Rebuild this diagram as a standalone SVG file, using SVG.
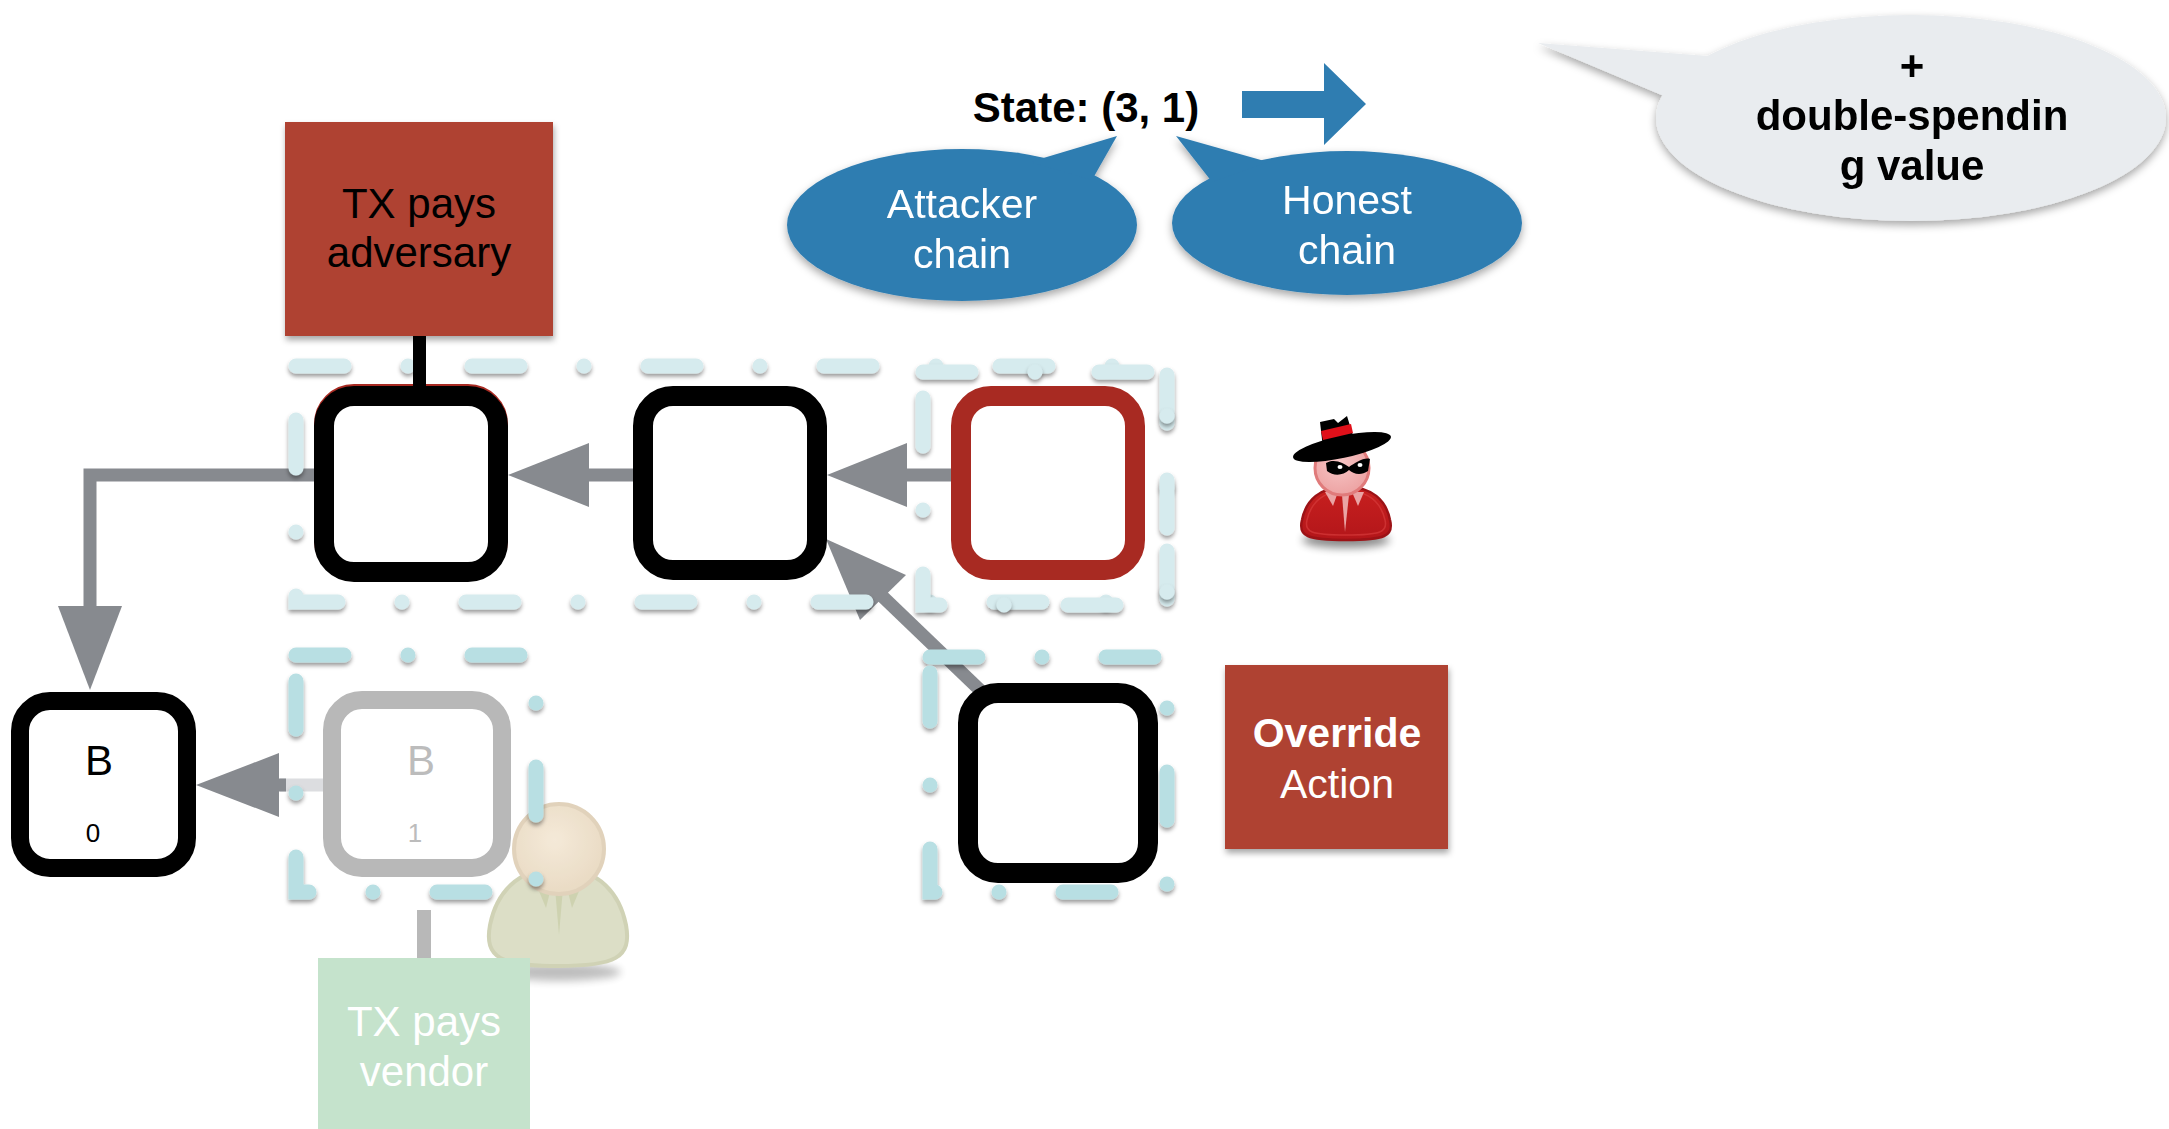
<svg xmlns="http://www.w3.org/2000/svg" width="2169" height="1129" viewBox="0 0 2169 1129">
  <style>
    .sans { font-family: "Liberation Sans", Arial, sans-serif; }
    .label { font-family: "Liberation Sans", Arial, sans-serif; font-size: 42px; text-anchor: middle; }
    .bold { font-weight: bold; }
    .blk { fill: #fff; stroke: #000; stroke-width: 20; }
    .blk-faded { fill: #fff; stroke: #b8b8b8; stroke-width: 18; }
    .wire { fill: none; stroke: #878a8f; stroke-width: 13; }
    .head { fill: #878a8f; }
    .grp { fill: none; stroke-width: 15; stroke-linecap: round; stroke-dasharray: 48 64 0 64; filter: url(#dashShadow); }
    .grp-pale { stroke: #d6ebee; }
    .grp-strong { stroke: #b8dfe3; }
    .card { filter: url(#boxShadow); }
    .bubble-blue { fill: #2f7db1; }
  </style>
  <defs>
    <filter id="dashShadow" x="-10%" y="-10%" width="120%" height="130%">
      <feDropShadow dx="0" dy="3" stdDeviation="2" flood-color="#000" flood-opacity="0.4"/>
    </filter>
    <filter id="boxShadow" x="-10%" y="-10%" width="125%" height="125%">
      <feDropShadow dx="1" dy="4" stdDeviation="3" flood-color="#000" flood-opacity="0.35"/>
    </filter>
    <filter id="bubbleShadow" x="-10%" y="-20%" width="120%" height="150%">
      <feDropShadow dx="0" dy="4" stdDeviation="4" flood-color="#000" flood-opacity="0.35"/>
    </filter>
    <filter id="softBlur" x="-50%" y="-200%" width="200%" height="500%">
      <feGaussianBlur stdDeviation="4"/>
    </filter>
    <radialGradient id="spyFace" cx="0.45" cy="0.4" r="0.6">
      <stop offset="0" stop-color="#f7c6c6"/>
      <stop offset="1" stop-color="#eda3a3"/>
    </radialGradient>
    <linearGradient id="spyBody" x1="0" y1="0" x2="0" y2="1">
      <stop offset="0" stop-color="#c8201f"/>
      <stop offset="1" stop-color="#b3161a"/>
    </linearGradient>
    <radialGradient id="vendorFace" cx="0.45" cy="0.4" r="0.6">
      <stop offset="0" stop-color="#f3e6d2"/>
      <stop offset="1" stop-color="#e6d5ba"/>
    </radialGradient>
  </defs>

  <rect width="2169" height="1129" fill="#fff"/>

  <!-- speech bubbles and state label -->
  <g id="bubble-value" filter="url(#bubbleShadow)">
    <ellipse cx="1911" cy="118" rx="255" ry="103" fill="#e9ecef"/>
    <polygon points="1538,43 1708,56 1664,96" fill="#e9ecef"/>
    <text class="label bold" x="1912" y="80">+</text>
    <text class="label bold" x="1912" y="130">double-spendin</text>
    <text class="label bold" x="1912" y="180">g value</text>
  </g>

  <g id="bubble-attacker" filter="url(#bubbleShadow)">
    <ellipse class="bubble-blue" cx="962" cy="225" rx="175" ry="76"/>
    <polygon class="bubble-blue" points="1117,136 1030,162 1092,180"/>
    <text class="label" x="962" y="218" fill="#fff" style="font-size:41px">Attacker</text>
    <text class="label" x="962" y="268" fill="#fff" style="font-size:41px">chain</text>
  </g>

  <g id="bubble-honest" filter="url(#bubbleShadow)">
    <ellipse class="bubble-blue" cx="1347" cy="223" rx="175" ry="72"/>
    <polygon class="bubble-blue" points="1176,136 1212,182 1268,162"/>
    <text class="label" x="1347" y="214" fill="#fff" style="font-size:41px">Honest</text>
    <text class="label" x="1347" y="264" fill="#fff" style="font-size:41px">chain</text>
  </g>

  <g id="state-label">
    <text class="label bold" x="1086" y="122">State: (3, 1)</text>
  </g>

  <g id="state-arrow">
    <polygon points="1242,91 1324,91 1324,63 1366,104 1324,145 1324,118 1242,118" fill="#2f7db1"/>
  </g>

  <!-- connectors between blocks -->
  <g id="connectors">
    <!-- block 1 -> B0 (elbow) -->
    <polyline class="wire" points="314,475 90,475 90,608" stroke-linejoin="miter"/>
    <polygon class="head" points="90,690 58,606 122,606"/>
    <!-- block 2 -> block 1 -->
    <line class="wire" x1="589" y1="475" x2="633" y2="475"/>
    <polygon class="head" points="508,475 589,443 589,507"/>
    <!-- red block -> block 2 -->
    <line class="wire" x1="907" y1="475" x2="951" y2="475"/>
    <polygon class="head" points="827,475 907,443 907,507"/>
    <!-- override block -> block 2 -->
    <line class="wire" x1="882" y1="596" x2="982" y2="692"/>
    <polygon class="head" points="826,539 906,575 860,620"/>
    <!-- B1 -> B0 -->
    <line x1="280" y1="785" x2="324" y2="785" stroke="#dcdde0" stroke-width="13"/>
    <line x1="278" y1="785" x2="286" y2="785" stroke="#878a8f" stroke-width="13"/>
    <polygon class="head" points="196,785 279,753 279,817"/>
  </g>

  <!-- blocks -->
  <g id="block-1">
    <rect x="324" y="394" width="174" height="176" rx="30" fill="none" stroke="#a82a22" stroke-width="20"/>
    <rect class="blk" x="324" y="396" width="174" height="176" rx="30"/>
  </g>
  <g id="block-2">
    <rect class="blk" x="643" y="396" width="174" height="174" rx="30"/>
  </g>
  <g id="block-3">
    <rect x="961" y="396" width="174" height="174" rx="30" fill="#fff" stroke="#a82a22" stroke-width="20"/>
  </g>
  <g id="block-override">
    <rect class="blk" x="968" y="693" width="180" height="180" rx="30"/>
  </g>
  <g id="block-b0">
    <rect x="20" y="701" width="167" height="167" rx="30" fill="#fff" stroke="#000" stroke-width="18"/>
    <text class="sans" x="99" y="775" font-size="42" text-anchor="middle" fill="#000">B</text>
    <text class="sans" x="93" y="842" font-size="26" text-anchor="middle" fill="#000">0</text>
  </g>
  <g id="block-b1">
    <rect class="blk-faded" x="332" y="700" width="170" height="168" rx="30"/>
    <text class="sans" x="421" y="775" font-size="42" text-anchor="middle" fill="#bcbcbc">B</text>
    <text class="sans" x="415" y="842" font-size="26" text-anchor="middle" fill="#bcbcbc">1</text>
  </g>

  <!-- vendor figure (faded) -->
  <g id="vendor-person" opacity="0.85">
    <ellipse cx="559" cy="972" rx="62" ry="9" fill="#000" opacity="0.3" filter="url(#softBlur)"/>
    <path d="M558,868 C600,868 620,895 626,925 C632,958 615,966 558,966 C501,966 484,958 490,925 C496,895 516,868 558,868 Z" fill="#d6d9bd" stroke="#c8cba9" stroke-width="4"/>
    <polygon points="536,884 546,908 552,884" fill="#c6cba3"/>
    <polygon points="555,888 559,935 563,888" fill="#c6cba3"/>
    <polygon points="566,884 572,908 582,884" fill="#c6cba3"/>
    <circle cx="559" cy="849" r="45" fill="url(#vendorFace)" stroke="#dccbb0" stroke-width="4"/>
  </g>

  <!-- dashed groupings -->
  <g id="groupings">
    <rect class="grp grp-pale" x="296" y="366" width="871" height="236"/>
    <rect class="grp grp-pale" x="923" y="372" width="244" height="233"/>
    <rect class="grp grp-strong" x="296" y="655" width="240" height="237"/>
    <rect class="grp grp-strong" x="930" y="657" width="237" height="235"/>
  </g>

  <!-- transaction cards -->
  <g id="tx-adversary">
    <rect x="413" y="334" width="13" height="54" fill="#000"/>
    <rect class="card" x="285" y="122" width="268" height="214" fill="#af4332"/>
    <text class="label" x="419" y="218" fill="#000">TX pays</text>
    <text class="label" x="419" y="267" fill="#000">adversary</text>
  </g>

  <g id="tx-vendor">
    <rect x="417" y="910" width="14" height="50" fill="#b8b8b8"/>
    <rect x="318" y="958" width="212" height="171" fill="#c5e3cc"/>
    <text class="label" x="424" y="1036" fill="#fff">TX pays</text>
    <text class="label" x="424" y="1086" fill="#fff">vendor</text>
  </g>

  <g id="override-action">
    <rect class="card" x="1225" y="665" width="223" height="184" fill="#af4332"/>
    <text class="label bold" x="1337" y="747" fill="#fff" style="font-size:41px">Override</text>
    <text class="label" x="1337" y="798" fill="#fff" style="font-size:41px">Action</text>
  </g>

  <!-- attacker figure -->
  <g id="spy">
    <ellipse cx="1346" cy="540" rx="44" ry="8" fill="#000" opacity="0.45" filter="url(#softBlur)"/>
    <path d="M1346,487 C1372,487 1386,500 1390,520 C1394,536 1385,540 1346,540 C1307,540 1298,536 1302,520 C1306,500 1320,487 1346,487 Z" fill="url(#spyBody)" stroke="#9c1216" stroke-width="2.5"/>
    <path d="M1346,491 C1369,491 1381,503 1385,520 C1388,532 1381,535 1346,535 C1311,535 1304,532 1307,520 C1311,503 1323,491 1346,491 Z" fill="none" stroke="#d63a3a" stroke-width="1.5" opacity="0.7"/>
    <polygon points="1325,492 1333,506 1338,492" fill="#eaa4a4"/>
    <polygon points="1342,495 1345,532 1349,495" fill="#eaa4a4"/>
    <polygon points="1352,492 1358,506 1364,492" fill="#eaa4a4"/>
    <circle cx="1342" cy="468" r="27" fill="url(#spyFace)" stroke="#e07b7b" stroke-width="3"/>
    <path d="M1326,463 C1334,458 1344,463 1349,467 C1355,463 1364,457 1370,459 L1368,471 C1361,476 1353,474 1349,470 C1343,476 1333,476 1327,471 Z" fill="#000"/>
    <ellipse cx="1340" cy="467" rx="2.5" ry="2" fill="#fff"/>
    <ellipse cx="1360" cy="465" rx="2.5" ry="2" fill="#fff"/>
    <ellipse cx="1342" cy="447" rx="50" ry="11" transform="rotate(-12 1342 447)" fill="#000"/>
    <polygon points="1320,422 1334,419 1338,423 1347,416 1355,442 1323,448" fill="#000"/>
    <polygon points="1321,431 1351,424 1353,433 1323,440" fill="#e0101a"/>
  </g>
</svg>
